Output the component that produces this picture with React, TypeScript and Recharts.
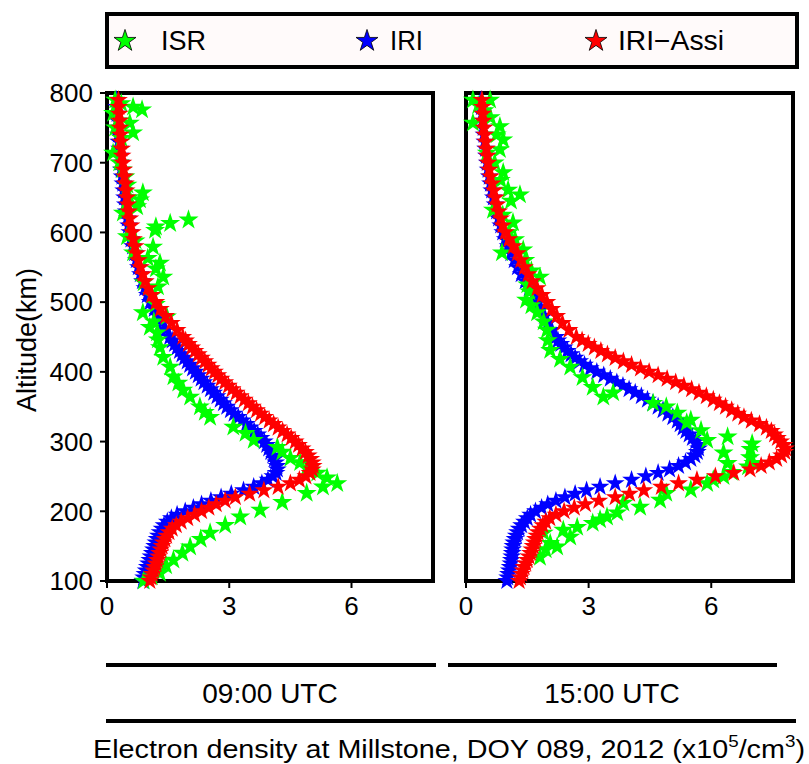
import React from 'react'
import { ScatterChart, Scatter, XAxis, YAxis, Symbols } from 'recharts'

// altitude grid of the IRI profiles (km)
const ALT = [
  100, 105, 110, 115, 120, 125, 130, 135, 140, 145,
  150, 155, 160, 165, 170, 175, 180, 185, 190, 195,
  200, 205, 210, 215, 220, 225, 230, 235, 240, 245,
  250, 255, 260, 265, 270, 275, 280, 285, 290, 295,
  300, 305, 310, 315, 320, 325, 330, 335, 340, 345,
  350, 355, 360, 365, 370, 375, 380, 385, 390, 395,
  400, 405, 410, 415, 420, 425, 430, 435, 440, 445,
  450, 460, 470, 480, 490, 500, 510, 520, 530, 540,
  550, 560, 570, 580, 590, 600, 610, 620, 630, 640,
  650, 660, 670, 680, 690, 700, 710, 720, 730, 740,
  750, 760, 770, 780, 790
]

// 09:00 UTC
const IRI_09 = [
  0.88, 0.9, 0.93, 0.96, 0.99, 1.02, 1.05, 1.08, 1.11, 1.14,
  1.17, 1.2, 1.23, 1.26, 1.3, 1.35, 1.4, 1.48, 1.58, 1.72,
  1.92, 2.12, 2.32, 2.55, 2.8, 3.05, 3.35, 3.6, 3.8, 3.95,
  4.07, 4.15, 4.18, 4.17, 4.14, 4.11, 4.07, 4.02, 3.97, 3.92,
  3.86, 3.78, 3.7, 3.61, 3.52, 3.42, 3.32, 3.22, 3.12, 3.03,
  2.94, 2.86, 2.78, 2.7, 2.62, 2.54, 2.46, 2.38, 2.31, 2.24,
  2.17, 2.1, 2.03, 1.97, 1.9, 1.84, 1.78, 1.72, 1.66, 1.6,
  1.54, 1.44, 1.34, 1.25, 1.16, 1.06, 0.99, 0.93, 0.87, 0.82,
  0.77, 0.72, 0.68, 0.63, 0.59, 0.56, 0.53, 0.5, 0.47, 0.45,
  0.43, 0.41, 0.39, 0.37, 0.35, 0.33, 0.32, 0.31, 0.29, 0.28,
  0.27, 0.26, 0.25, 0.24, 0.23
]
const ASSI_09 = [
  1.05, 1.08, 1.11, 1.14, 1.17, 1.2, 1.23, 1.26, 1.29, 1.32,
  1.35, 1.38, 1.42, 1.46, 1.52, 1.6, 1.7, 1.82, 1.98, 2.15,
  2.32, 2.5, 2.68, 2.9, 3.15, 3.5, 3.85, 4.2, 4.5, 4.72,
  4.88, 4.98, 5.04, 5.06, 5.04, 5.0, 4.94, 4.87, 4.79, 4.7,
  4.62, 4.52, 4.42, 4.31, 4.2, 4.09, 3.98, 3.87, 3.77, 3.67,
  3.57, 3.47, 3.37, 3.27, 3.17, 3.07, 2.98, 2.89, 2.8, 2.72,
  2.64, 2.56, 2.48, 2.4, 2.32, 2.24, 2.16, 2.08, 2.0, 1.93,
  1.86, 1.72, 1.58, 1.44, 1.31, 1.2, 1.1, 1.01, 0.94, 0.88,
  0.82, 0.77, 0.73, 0.69, 0.65, 0.62, 0.59, 0.56, 0.53, 0.51,
  0.49, 0.47, 0.45, 0.43, 0.41, 0.39, 0.37, 0.36, 0.34, 0.33,
  0.32, 0.31, 0.3, 0.29, 0.28
]
const ISR_09_ALT = [
  100, 106, 111, 122, 130, 140, 149, 160, 169, 180, 192, 202, 213, 226, 235,
  240, 248, 255, 262, 270, 276, 285, 292, 302, 312, 321, 335, 342, 350, 364,
  374, 384, 393, 407, 421, 435, 446, 456, 464, 472, 479, 485, 497, 510, 522,
  528, 536, 548, 556, 563, 571, 579, 588, 594, 603, 608, 613, 618, 628, 637,
  647, 650, 657, 668, 680, 690, 700, 714, 735, 743, 750, 757, 760, 771, 776,
  780, 785, 790
]
const ISR_09 = [
  0.9, 1.1, 1.3, 1.45, 1.63, 1.85, 2.04, 2.3, 2.53, 2.9, 3.27, 3.76, 4.3, 4.9, 5.3,
  5.65, 5.4, 5.16, 4.9, 4.74, 4.5, 4.3, 4.18, 3.6, 3.4, 3.1, 2.53, 2.4, 2.28, 2.04,
  1.87, 1.75, 1.63, 1.55, 1.38, 1.3, 1.25, 1.23, 1.05, 1.15, 1.47, 0.88, 1.2, 1.1, 1.25,
  0.9, 1.38, 1.2, 1.3, 1.0, 0.64, 1.13, 0.7, 0.49, 1.18, 1.2, 1.55, 2.0, 0.39, 0.74,
  0.81, 0.55, 0.88, 0.5, 0.45, 0.38, 0.3, 0.15, 0.35, 0.64, 0.2, 0.56, 0.3, 0.15, 0.86,
  0.64, 0.35, 0.2
]

// 15:00 UTC
const IRI_15 = [
  1.0, 1.02, 1.04, 1.06, 1.08, 1.1, 1.11, 1.12, 1.13, 1.14,
  1.15, 1.17, 1.2, 1.23, 1.26, 1.3, 1.36, 1.43, 1.5, 1.58,
  1.7, 1.85, 2.0, 2.2, 2.42, 2.67, 2.95, 3.28, 3.65, 4.05,
  4.4, 4.7, 4.98, 5.2, 5.37, 5.5, 5.6, 5.66, 5.69, 5.68,
  5.62, 5.54, 5.46, 5.38, 5.31, 5.24, 5.17, 5.06, 4.94, 4.82,
  4.7, 4.57, 4.44, 4.29, 4.14, 3.99, 3.84, 3.69, 3.53, 3.37,
  3.2, 3.04, 2.9, 2.78, 2.67, 2.57, 2.48, 2.4, 2.32, 2.25,
  2.2, 2.1, 2.0, 1.92, 1.84, 1.76, 1.66, 1.55, 1.45, 1.35,
  1.26, 1.18, 1.1, 1.03, 0.96, 0.9, 0.85, 0.8, 0.75, 0.71,
  0.67, 0.63, 0.6, 0.57, 0.54, 0.52, 0.5, 0.48, 0.46, 0.44,
  0.42, 0.41, 0.4, 0.38, 0.37
]
const ASSI_15 = [
  1.3, 1.33, 1.36, 1.39, 1.42, 1.46, 1.5, 1.54, 1.58, 1.61,
  1.64, 1.67, 1.7, 1.73, 1.76, 1.82, 1.88, 1.95, 2.05, 2.2,
  2.4, 2.65, 2.92, 3.25, 3.65, 4.0, 4.35, 4.78, 5.2, 5.65,
  6.1, 6.55, 6.95, 7.22, 7.42, 7.6, 7.72, 7.8, 7.82, 7.78,
  7.7, 7.62, 7.55, 7.47, 7.35, 7.18, 6.98, 6.8, 6.65, 6.5,
  6.35, 6.2, 6.05, 5.88, 5.7, 5.52, 5.33, 5.13, 4.92, 4.7,
  4.48, 4.27, 4.05, 3.85, 3.65, 3.46, 3.3, 3.14, 2.99, 2.84,
  2.7, 2.52, 2.36, 2.22, 2.1, 1.98, 1.86, 1.74, 1.62, 1.52,
  1.43, 1.34, 1.26, 1.16, 1.05, 0.96, 0.9, 0.85, 0.8, 0.76,
  0.72, 0.68, 0.64, 0.6, 0.57, 0.54, 0.52, 0.5, 0.48, 0.46,
  0.44, 0.42, 0.41, 0.4, 0.39
]
const ISR_15_ALT = [
  134, 145, 149, 154, 163, 169, 173, 177, 183, 188, 192, 198, 206, 212, 216,
  226, 231, 240, 245, 250, 256, 264, 269, 269, 277, 284, 289, 297, 302, 307,
  316, 327, 331, 341, 350, 355, 364, 370, 378, 392, 407, 418, 431, 445, 460,
  472, 485, 495, 503, 515, 525, 536, 545, 560, 571, 575, 590, 600, 614, 625,
  632, 645, 654, 661, 675, 686, 700, 714, 719, 733, 740, 752, 757, 765, 775,
  782, 790, 790
]
const ISR_15 = [
  1.81, 1.95, 2.23, 2.06, 2.55, 1.9, 2.38, 2.72, 3.1, 3.28, 3.45, 3.7, 4.26, 3.85, 4.75,
  4.9, 5.5, 5.9, 6.05, 6.3, 6.5, 6.9, 7.03, 6.4, 6.95, 6.3, 6.96, 7.0, 5.9, 6.4,
  5.75, 5.4, 5.5, 5.17, 4.9, 4.58, 3.36, 3.6, 3.1, 2.85, 2.55, 2.3, 2.06, 2.0, 1.98,
  1.9, 1.74, 1.6, 1.47, 1.55, 1.5, 1.81, 1.6, 1.45, 0.88, 1.4, 1.2, 1.05, 1.15, 0.9,
  0.66, 1.1, 1.32, 1.03, 0.85, 0.91, 0.7, 0.51, 0.83, 0.91, 0.75, 0.83, 0.17, 0.6, 0.45,
  0.3, 0.17, 0.59
]

const X_TICKS = [0, 3, 6]
const Y_TICKS = [100, 200, 300, 400, 500, 600, 700, 800]

const GREEN = '#00ff00'
const BLUE = '#0000ff'
const RED = '#ff0000'
const FONT = '"Liberation Sans", Arial, Helvetica, sans-serif'

const toPoints = (alt: number[], ne: number[]) =>
  alt.map((a, i) => ({ alt: a, ne: ne[i] }))

const star = (color: string, size: number) => (props: any) => (
  <Symbols cx={props.cx} cy={props.cy} type="star" size={size} fill={color} />
)

const frame = { stroke: '#000', strokeWidth: 4, strokeLinecap: 'square' as const }
const tickLn = { stroke: '#000', strokeWidth: 2 }
const tickFont = { fill: '#000', fontSize: 26, fontFamily: FONT }

interface PanelProps {
  left: number
  width: number
  marginLeft: number
  marginRight: number
  yAxisWidth: number
  showYLabels: boolean
  isr: { alt: number; ne: number }[]
  iri: { alt: number; ne: number }[]
  assi: { alt: number; ne: number }[]
}

const Panel: React.FC<PanelProps> = ({
  left, width, marginLeft, marginRight, yAxisWidth, showYLabels, isr, iri, assi
}) => (
  <div style={{ position: 'absolute', left, top: 0 }}>
    <ScatterChart
      width={width}
      height={640}
      margin={{ top: 92, right: marginRight, bottom: 19, left: marginLeft }}
    >
      <Scatter xAxisId="b" yAxisId="l" data={iri} shape={star(BLUE, 110)} isAnimationActive={false} />
      <Scatter xAxisId="b" yAxisId="l" data={isr} shape={star(GREEN, 125)} isAnimationActive={false} />
      <Scatter xAxisId="b" yAxisId="l" data={assi} shape={star(RED, 110)} isAnimationActive={false} />
      <XAxis
        xAxisId="b"
        type="number"
        dataKey="ne"
        domain={[0, 8]}
        ticks={X_TICKS}
        height={40}
        axisLine={frame}
        tickLine={tickLn}
        tickSize={7}
        tickMargin={9}
        tick={tickFont}
      />
      <XAxis
        xAxisId="t"
        orientation="top"
        type="number"
        dataKey="ne"
        domain={[0, 8]}
        allowDataOverflow
        ticks={X_TICKS}
        height={1}
        axisLine={frame}
        tickLine={tickLn}
        tickSize={7}
        tick={false}
      />
      <YAxis
        yAxisId="l"
        type="number"
        dataKey="alt"
        domain={[100, 800]}
        ticks={Y_TICKS}
        width={yAxisWidth}
        axisLine={frame}
        tickLine={tickLn}
        tickSize={7}
        tickMargin={7}
        tick={showYLabels ? tickFont : false}
      />
      <YAxis
        yAxisId="r"
        orientation="right"
        type="number"
        dataKey="alt"
        domain={[100, 800]}
        allowDataOverflow
        ticks={Y_TICKS}
        width={1}
        axisLine={frame}
        tickLine={tickLn}
        tickSize={7}
        tick={false}
      />
    </ScatterChart>
  </div>
)

export default function App() {
  return (
    <div style={{ position: 'absolute', left: 0, top: 0, width: 809, height: 764, background: '#fff' }}>
      <Panel
        left={0}
        width={450}
        marginLeft={47}
        marginRight={16}
        yAxisWidth={60}
        showYLabels
        isr={toPoints(ISR_09_ALT, ISR_09)}
        iri={toPoints(ALT, IRI_09)}
        assi={toPoints(ALT, ASSI_09)}
      />
      <Panel
        left={440}
        width={369}
        marginLeft={25}
        marginRight={15}
        yAxisWidth={1}
        showYLabels={false}
        isr={toPoints(ISR_15_ALT, ISR_15)}
        iri={toPoints(ALT, IRI_15)}
        assi={toPoints(ALT, ASSI_15)}
      />
      <svg
        width={809}
        height={764}
        style={{ position: 'absolute', left: 0, top: 0, pointerEvents: 'none' }}
        fontFamily={FONT}
      >
        {/* legend */}
        <rect x={107} y={14} width={690} height={53} fill="#fffafa" stroke="#000" strokeWidth={4} />
        <Symbols cx={125} cy={41} type="star" size={150} fill={GREEN} stroke="#000" strokeWidth={0.8} />
        <text x={161} y={50} fontSize={27} textLength={45} lengthAdjust="spacingAndGlyphs">ISR</text>
        <Symbols cx={367} cy={41} type="star" size={150} fill={BLUE} stroke="#000" strokeWidth={0.8} />
        <text x={390} y={50} fontSize={27} textLength={33} lengthAdjust="spacingAndGlyphs">IRI</text>
        <Symbols cx={596} cy={41} type="star" size={150} fill={RED} stroke="#000" strokeWidth={0.8} />
        <text x={618} y={50} fontSize={27} textLength={106} lengthAdjust="spacingAndGlyphs">IRI−Assi</text>

        <text x={36} y={340} fontSize={27} textAnchor="middle" transform="rotate(-90 36 340)">
          Altitude(km)
        </text>

        {/* panel captions */}
        <line x1={106} y1={665} x2={436} y2={665} stroke="#000" strokeWidth={4} />
        <line x1={448} y1={665} x2={777} y2={665} stroke="#000" strokeWidth={4} />
        <text x={270} y={703} fontSize={28} textAnchor="middle">09:00 UTC</text>
        <text x={612} y={703} fontSize={28} textAnchor="middle">15:00 UTC</text>
        <line x1={106} y1={721} x2={796} y2={721} stroke="#000" strokeWidth={4} />
        <text x={93} y={758} fontSize={26} textLength={712} lengthAdjust="spacingAndGlyphs">
          Electron density at Millstone, DOY 089, 2012 (x10
          <tspan fontSize={17} dy={-11}>5</tspan>
          <tspan dy={11}>/cm</tspan>
          <tspan fontSize={17} dy={-11}>3</tspan>
          <tspan dy={11}>)</tspan>
        </text>
      </svg>
    </div>
  )
}
